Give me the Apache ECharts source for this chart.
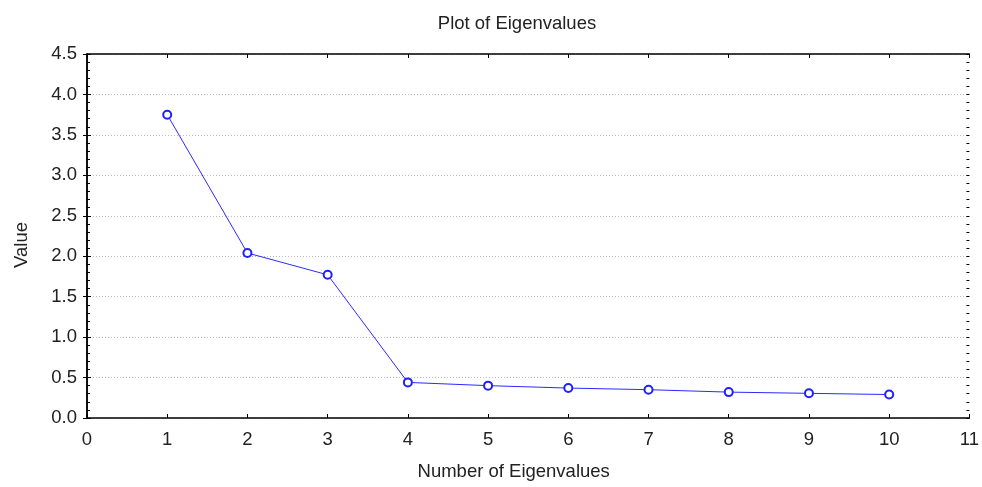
<!DOCTYPE html>
<html>
<head>
    <meta charset="utf-8">
    <title>Plot of Eigenvalues</title>
    <script src="https://cdn.jsdelivr.net/npm/echarts@6.0.0/dist/echarts.min.js"></script>
    <style>
        body, html {
            margin: 0;
            padding: 0;
            height: 100%;
            overflow: hidden;
            background: #fff;
        }
        #main {
            width: 982px;
            height: 487px;
        }
    </style>
</head>
<body>
    <div id="main"></div>
    <script>
        // eigenvalue number vs. eigenvalue
        var eigenNumbers = [1, 2, 3, 4, 5, 6, 7, 8, 9, 10];
        var eigenValues = [3.75, 2.04, 1.77, 0.44, 0.40, 0.37, 0.35, 0.32, 0.305, 0.29];

        var font = '"Liberation Sans", Arial, sans-serif';
        var fontSize = 18.5;
        var textColor = '#222';

        var chart = echarts.init(document.getElementById('main'));

        var points = eigenNumbers.map(function (n, i) { return [n, eigenValues[i]]; });

        var xBase = {
            type: 'value',
            min: 0,
            max: 11,
            interval: 1,
            axisLine: { show: true, onZero: false, lineStyle: { color: '#000', width: 1.5 } },
            axisTick: { show: true, inside: true, length: 4, lineStyle: { color: '#000' } },
            splitLine: { show: false }
        };
        var yBase = {
            type: 'value',
            min: 0,
            max: 4.5,
            interval: 0.5,
            axisLine: { show: true, lineStyle: { color: '#000', width: 1.5 } },
            axisTick: { show: true, inside: true, length: 4, lineStyle: { color: '#000' } },
            splitLine: { show: false }
        };
        // small inward ticks every 0.1 on the left and right frame
        var yMinor = {
            type: 'value',
            min: 0,
            max: 4.5,
            interval: 0.1,
            axisLine: { show: false },
            axisTick: { show: true, inside: true, length: 3, lineStyle: { color: '#000' } },
            axisLabel: { show: false },
            splitLine: { show: false }
        };

        var option = {
            backgroundColor: '#fff',
            animation: false,
            title: {
                text: 'Plot of Eigenvalues',
                left: 512,
                top: 9,
                textAlign: 'center',
                textStyle: { fontFamily: font, fontSize: fontSize, fontWeight: 'normal', color: textColor }
            },
            grid: { left: 87, right: 9, top: 54, bottom: 69, containLabel: false },
            xAxis: [
                Object.assign({}, xBase, {
                    position: 'bottom',
                    name: 'Number of Eigenvalues',
                    nameLocation: 'middle',
                    nameGap: 44,
                    nameTextStyle: { fontFamily: font, fontSize: fontSize, color: textColor, padding: [0, 29, 0, 0] },
                    axisLabel: { fontFamily: font, fontSize: fontSize, color: textColor, margin: 12 }
                }),
                Object.assign({}, xBase, {
                    position: 'top',
                    axisLabel: { show: false }
                })
            ],
            yAxis: [
                Object.assign({}, yBase, {
                    position: 'left',
                    name: 'Value',
                    nameLocation: 'middle',
                    nameGap: 56,
                    nameTextStyle: { fontFamily: font, fontSize: fontSize, color: textColor, padding: [0, 18, 0, 0] },
                    axisLabel: {
                        fontFamily: font, fontSize: fontSize, color: textColor, margin: 10,
                        formatter: function (v) { return v.toFixed(1); }
                    },
                    splitLine: { show: true, lineStyle: { color: '#bdbdbd', type: [1, 2], width: 1 } }
                }),
                Object.assign({}, yBase, {
                    position: 'right',
                    axisLabel: { show: false }
                }),
                Object.assign({}, yMinor, { position: 'left' }),
                Object.assign({}, yMinor, { position: 'right' })
            ],
            series: [{
                type: 'line',
                data: points,
                symbol: 'emptyCircle',
                symbolSize: 8,
                itemStyle: { color: '#2020ff', borderWidth: 1.5 },
                lineStyle: { color: '#2a2aff', width: 1 },
                z: 5
            }]
        };

        chart.setOption(option);
    </script>
</body>
</html>
